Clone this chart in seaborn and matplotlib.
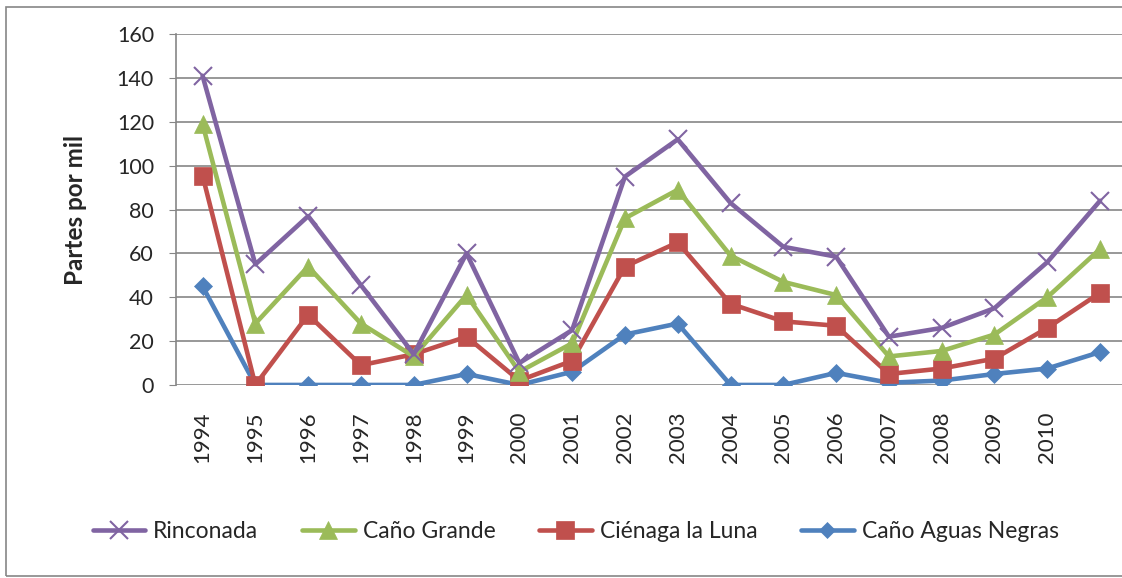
import pandas as pd
import matplotlib.pyplot as plt
import seaborn as sns
from matplotlib.patches import Rectangle

years = list(range(1994, 2012))
tick_years = years[:-1]
rinconada = [141, 55, 77, 45.5, 14, 60, 10, 25, 95, 112, 83, 63, 58.5, 22, 26, 35, 56, 84]
cano_grande = [119, 28, 54, 28, 13, 41, 6, 19, 76, 89, 59, 47, 41, 13, 15.5, 23, 40, 62]
cienaga = [95.5, 0, 32, 9, 14, 22, 2, 11, 54, 65, 37, 29, 27, 5, 7.5, 12, 26, 42]
aguas_negras = [45, 0, 0, 0, 0, 5, 0, 6, 23, 28, 0, 0, 5.5, 1, 2, 5, 7.5, 15]

names = ["Rinconada", "Caño Grande", "Ciénaga la Luna", "Caño Aguas Negras"]
series = [rinconada, cano_grande, cienaga, aguas_negras]
colors = ["#8064A2", "#9BBB59", "#C0504D", "#4F81BD"]
markers = ["x", "^", "s", "D"]
msizes = [13, 13.5, 13, 9]

sns.set_style("white")
plt.rcParams['font.family'] = ['Lato', 'DejaVu Sans']

fig = plt.figure(figsize=(11.22, 5.78), dpi=100)
ax = fig.add_axes([0.157, 0.334, 0.847, 0.607])

handles = {}
# draw in reverse so Rinconada ends on top
for i in [3, 2, 1, 0]:
    df = pd.DataFrame({"year": years, "val": series[i]})
    sns.lineplot(data=df, x="year", y="val", ax=ax, color=colors[i], lw=3.3,
                 marker=markers[i], markersize=msizes[i],
                 markeredgecolor=colors[i], markeredgewidth=1.5 if markers[i] == "x" else 0.5,
                 zorder=3 + (3 - i), label=names[i])
    handles[names[i]] = ax.lines[-1]

ax.get_legend().remove()
ax.set_xlim(1993.5, 2011.5)
ax.set_ylim(0, 160)
ax.set_yticks(range(0, 161, 20))
ax.set_xticks(tick_years)
ax.set_xticklabels([str(y) for y in tick_years], rotation=90, fontsize=16)
ax.tick_params(axis='y', labelsize=15.5, length=5, color="#868686", direction="out",
               left=True, pad=11)
ax.tick_params(axis='x', length=0, pad=19)
ax.yaxis.grid(True, color="#868686", lw=1.2)
ax.set_axisbelow(True)
for s in ["top", "right", "bottom"]:
    ax.spines[s].set_visible(False)
ax.spines["left"].set_color("#868686")
ax.spines["left"].set_linewidth(1.2)
ax.set_xlabel("")
ax.set_ylabel("Partes por mil", fontsize=17.5, fontweight="bold")
ax.yaxis.set_label_coords(-0.094, 0.5)

fig.legend([handles[n] for n in names], names, loc="center", ncol=4,
           bbox_to_anchor=(0.513, 0.081), frameon=False, fontsize=16.5,
           handlelength=2.3, columnspacing=1.9, handletextpad=0.35, markerscale=0.95)

fig.patches.append(Rectangle((0.005, 0.003), 1.2, 0.985, transform=fig.transFigure,
                             fill=False, edgecolor="#868686", lw=1.2))

fig.savefig("out.png", dpi=100)
